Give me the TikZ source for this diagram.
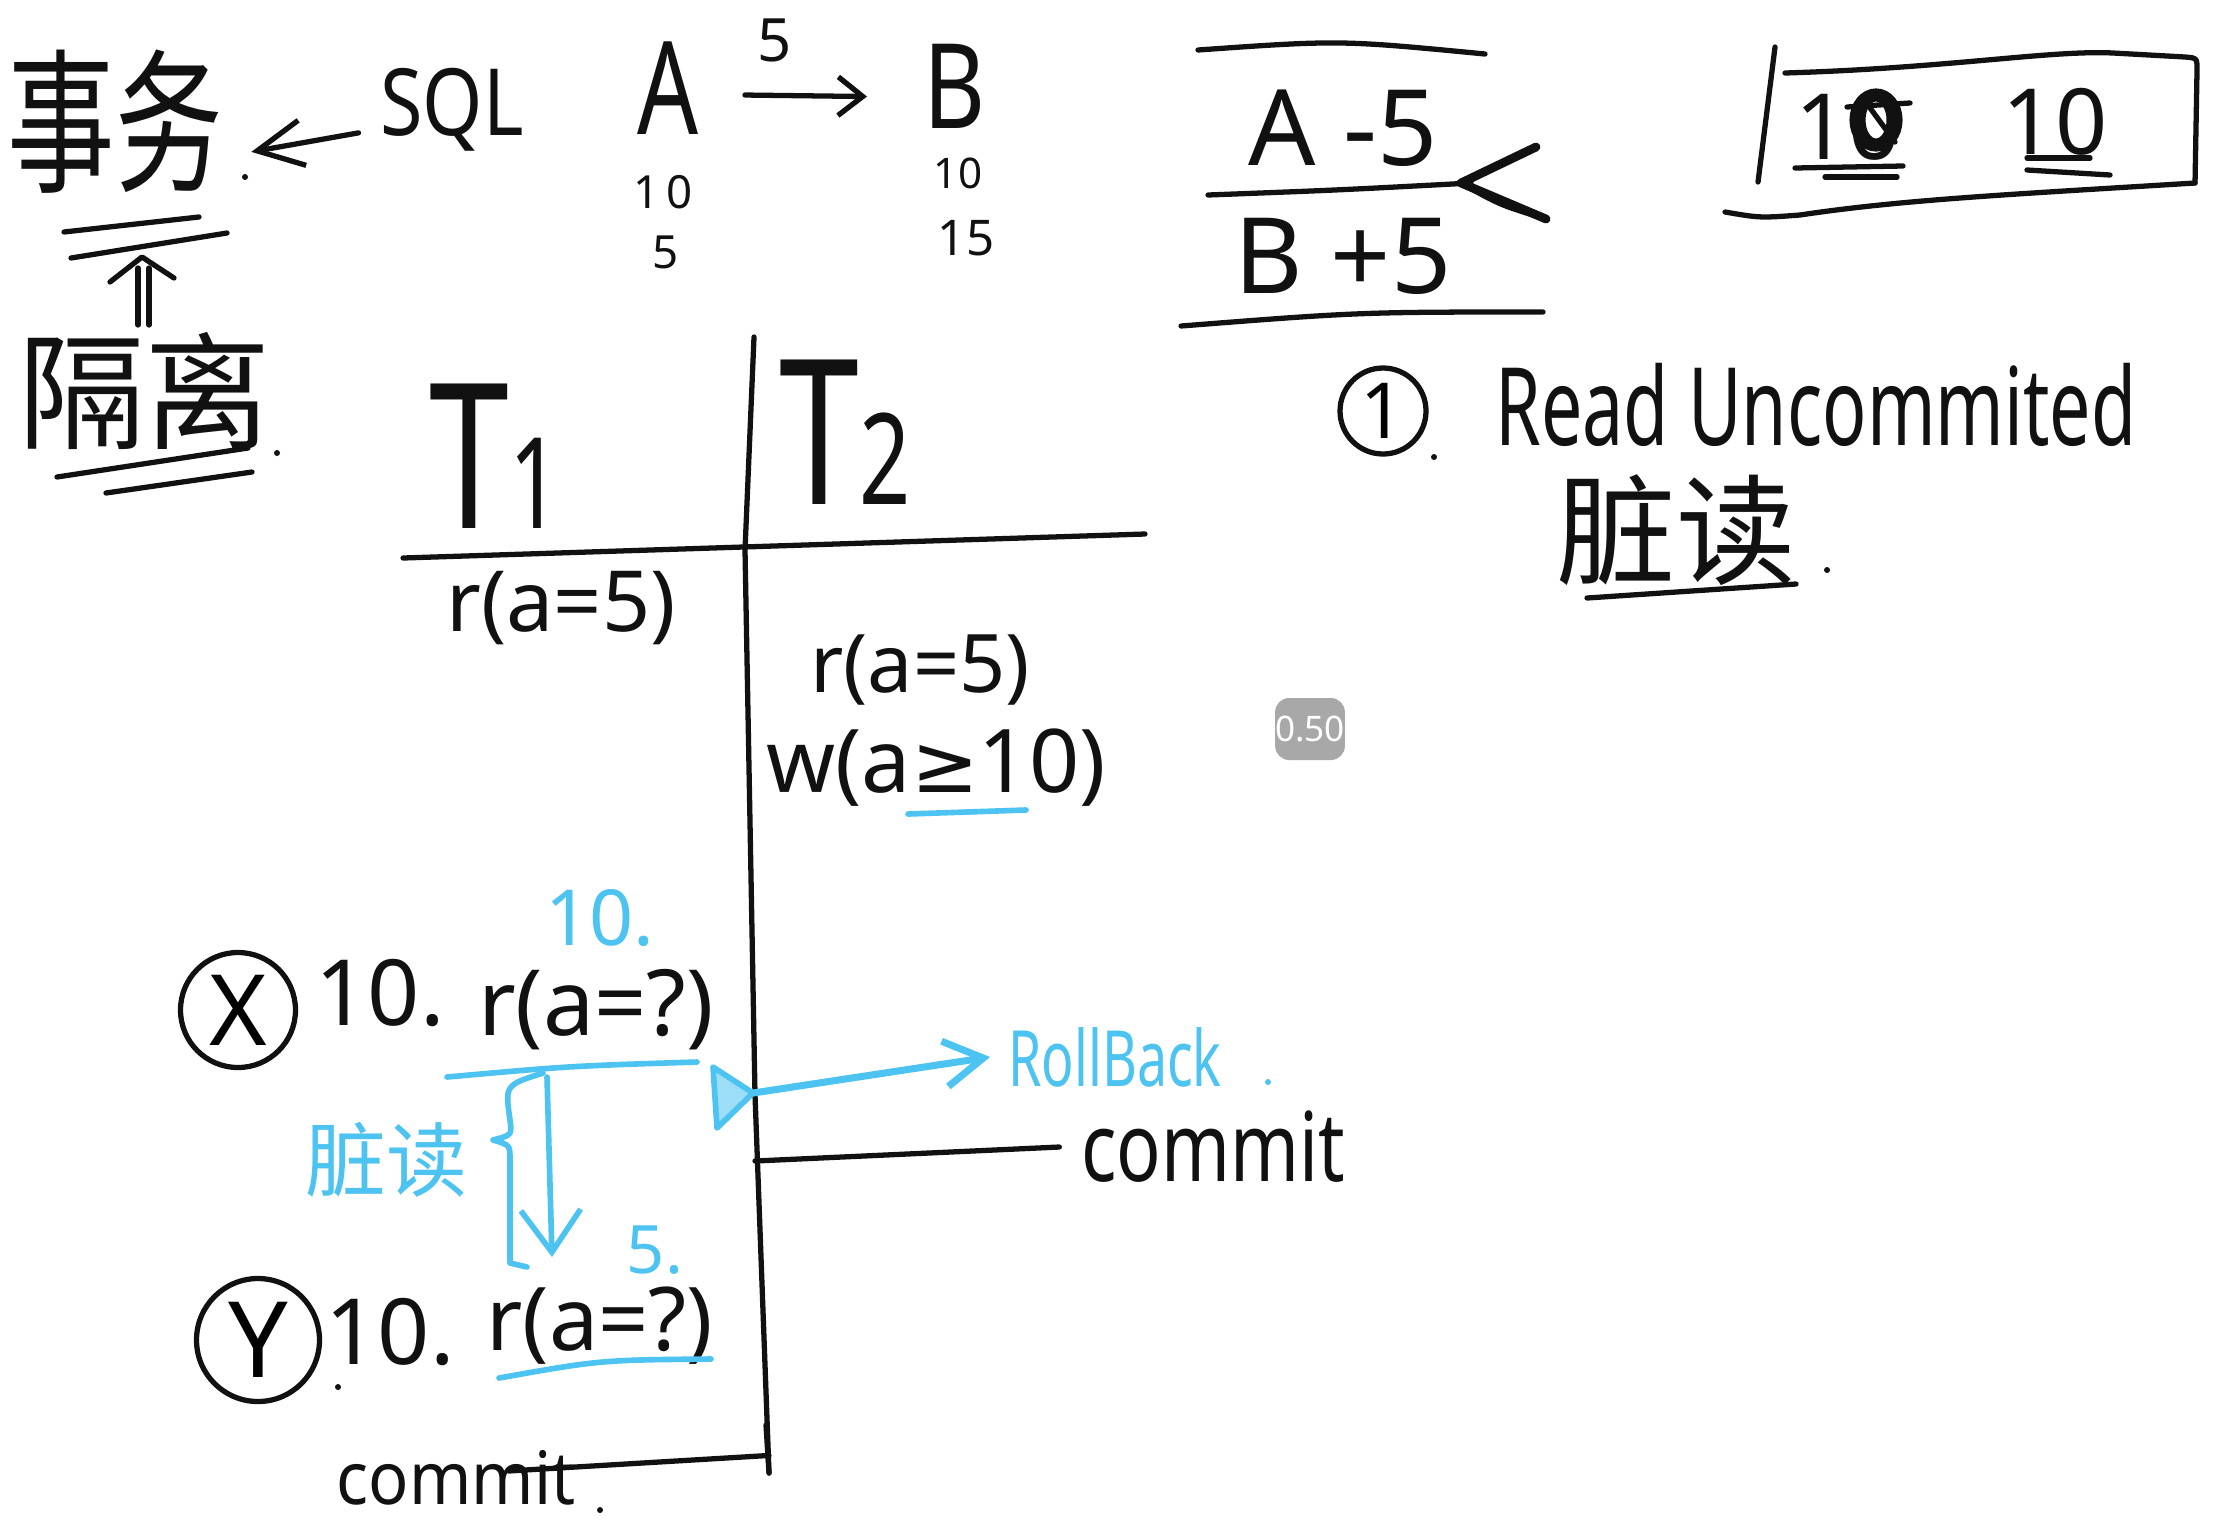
\documentclass[tikz,border=0pt]{standalone}
\usepackage{fontspec}
\setmainfont{Noto Sans}
\newfontfamily\cjk{Noto Sans CJK SC}
\newfontfamily\symfont{DejaVu Sans}
\usetikzlibrary{arrows.meta}
\definecolor{ink}{HTML}{111111}
\definecolor{sky}{HTML}{4CC3F0}
\definecolor{badgegray}{HTML}{A8A8A8}
\newcommand{\fsz}[1]{\fontsize{#1}{#1}\selectfont}
\begin{document}
\begin{tikzpicture}[x=0.1mm,y=-0.1mm,line cap=round,line join=round,
  stroke/.style={draw=ink,line width=1.5pt},
  bstroke/.style={draw=sky,line width=1.6pt},
  txt/.style={inner sep=0pt,text=ink},
  btxt/.style={inner sep=0pt,text=sky},
  ring/.style={draw=ink,line width=1.5pt,circle,inner sep=0pt},
  dotmark/.style={fill=ink},
  barb/.style={-{Straight Barb[length=#1pt,width=#1pt]}}]
\useasboundingbox[fill=white] (0,0) rectangle (2216,1534);

% ---------- top left ----------
\node[txt,font=\cjk\fsz{34}] (shiwu) at (115,122) {\scalebox{0.9}[1.3]{事务}};
\fill[dotmark] (245,177) circle (3);
\node[txt,font=\fsz{22}] (sql) at (452,110) {\scalebox{1}[1.2]{SQL}};
\draw[stroke,barb=13] ([xshift=-6pt,yshift=-6.5pt]sql.west) -- ([xshift=8pt,yshift=-8.5pt]shiwu.east);

\draw[stroke] (64,232) -- (199,217);
\draw[stroke] (71,258) -- (227,233);
\node[txt,font=\cjk\fsz{36}] (geli) at (145,391) {隔离};
\fill[dotmark] (277,453) circle (3);
\draw[stroke] (138,325) -- (138,268);
\draw[stroke] (149,325) -- (149,268);
\draw[stroke] (110,282) -- (142,257) -- (174,278);
\draw[stroke] (57,477) -- (248,448);
\draw[stroke] (106,493) -- (252,472);

\node[txt,font=\fsz{32}] (A) at (668,88) {\scalebox{0.85}[1.15]{A}};
\node[txt,font=\fsz{17}] (five) at (775,40) {5};
\node[txt,font=\fsz{32}] (B) at (955,86) {\scalebox{0.85}[1.05]{B}};
\draw[stroke,-{Straight Barb[length=7pt,width=11pt]}] ([xshift=13pt,yshift=-2pt]A.east) -- ([xshift=-16pt,yshift=-3pt]B.west);
\node[txt,font=\fsz{13}] (a10) at (663,192) {1\,0};
\node[txt,font=\fsz{13}] (a5) at (666,252) {5};
\node[txt,font=\fsz{12}] (b10) at (958,173) {10};
\node[txt,font=\fsz{14}] (b15) at (966,238) {15};

% ---------- A-5 / B+5 ----------
\draw[stroke] (1198,50) .. controls (1340,40) .. (1485,54);
\node[txt,font=\fsz{30}] (am5) at (1343,128) {A -5};
\draw[stroke] (1208,195) .. controls (1340,190) .. (1471,183);
\coordinate (cutTip) at (1461,183);
\draw[stroke,line width=2.5pt] (1536,147) -- (cutTip) -- (1546,219);
\draw[stroke] (cutTip) .. controls (1500,205) .. (1546,219);
\node[txt,font=\fsz{30}] (bp5) at (1343,256) {B +5};
\draw[stroke] (1181,326) .. controls (1360,312) .. (1543,312);

% ---------- box with 10 10 ----------
\draw[stroke] (1775,47) -- (1758,182);
\draw[stroke] (1785,73) .. controls (1950,68) and (2050,50) .. (2113,53) -- (2185,57) .. controls (2197,58) .. (2197,70) -- (2195,183);
\draw[stroke] (2195,183) .. controls (2000,195) and (1900,200) .. (1800,215) .. controls (1760,218) .. (1725,212);
\node[txt,font=\fsz{26}] (tenA) at (1848,127) {10};
\draw[draw=ink,line width=2.6pt] (1876,120) ellipse (22 and 27);
\draw[draw=ink,line width=2pt] (1876,120) ellipse (14 and 22);
\draw[stroke] (1847,107) -- (1910,103);
\draw[stroke] (1862,97) -- (1895,142);
\draw[stroke] (1795,168) -- (1903,166);
\draw[stroke] (1825,177) -- (1897,177);
\node[txt,font=\fsz{26}] (tenB) at (2055,122) {10};
\draw[stroke] (2027,158) -- (2090,158);
\draw[stroke] (2027,170) -- (2110,175);

% ---------- Read Uncommited ----------
\node[ring,minimum size=8.6mm,font=\fsz{22}] (one) at (1383,411) {1};
\fill[dotmark] (1434,457) circle (3);
\node[txt,font=\fsz{22}] (ru) at (1816,405) {\scalebox{0.95}[1.4]{Read Uncommited}};
\node[txt,font=\cjk\fsz{34}] (zd) at (1676,530) {脏读};
\fill[dotmark] (1827,570) circle (3);
\draw[stroke] (1587,598) -- (1796,584);

% ---------- timeline table ----------
\node[txt,font=\fsz{48}] (T1) at (495,456) {\scalebox{0.85}[1.2]{T{\fsz{30}1}}};
\node[txt,font=\fsz{48}] (T2) at (845,432) {\scalebox{0.85}[1.2]{T{\fsz{30}2}}};
\coordinate (vt) at (754,337);
\coordinate (vb) at (769,1473);
\draw[stroke] (vt) -- (745,550) -- (755,1095) -- (vb);
\draw[stroke] (403,558) -- (1145,534);

\node[txt,font=\fsz{24}] (r1) at (561,608) {r(a=5)};
\node[txt,font=\fsz{23}] (r2) at (920,670) {r(a=5)};
\node[txt,font=\fsz{25}] (w1) at (936,768) {w(a{\symfont\fsz{23}≥}10)};
\draw[bstroke] (908,814) -- (1026,810);

\node[btxt,font=\fsz{22}] (bten) at (600,918) {10.};
\node[ring,minimum size=11.5mm,font=\fsz{28}] (X) at (238,1010) {X};
\node[txt,font=\fsz{26}] (xten) at (380,993) {10.};
\node[txt,font=\fsz{26}] (rq1) at (596,1010) {r(a=?)};

\draw[bstroke] (447,1077) .. controls (570,1066) .. (697,1062);
\draw[bstroke,-{Straight Barb[length=12pt,width=17pt]}] (547,1077) -- (552,1257);
\draw[bstroke] (543,1073) .. controls (505,1085) .. (510,1120) .. controls (512,1135) .. (493,1140) .. controls (510,1145) .. (510,1160) -- (510,1263) -- (527,1267);
\node[btxt,font=\cjk\fsz{23}] (dirty) at (386,1160) {脏读};

\draw[bstroke,fill=sky!55] (713,1067) -- (717,1128) -- (753,1093) -- cycle;
\node[btxt,font=\fsz{17}] (rb) at (1115,1057) {\scalebox{0.9}[1.3]{RollBack}};
\fill[sky] (1268,1082) circle (3);
\draw[bstroke,line width=2pt,-{Straight Barb[length=11pt,width=13pt]}] (753,1093) -- ([xshift=-5pt]rb.west);

\node[txt,font=\fsz{21}] (commitR) at (1213,1147) {\scalebox{1}[1.3]{commit}};
\draw[stroke] (755,1161) -- ([xshift=-6pt]commitR.west);

\node[btxt,font=\fsz{19}] (bfive) at (655,1250) {5.};
\node[ring,minimum size=12.3mm,font=\fsz{30}] (Y) at (258,1340) {Y};
\fill[dotmark] (338,1387) circle (3);
\node[txt,font=\fsz{26}] (yten) at (390,1332) {10.};
\node[txt,font=\fsz{25}] (rq2) at (600,1326) {r(a=?)};
\draw[bstroke] (499,1378) .. controls (600,1360) .. (711,1359);

\node[txt,font=\fsz{19}] (commitB) at (456,1478) {\scalebox{1}[1.1]{commit}};
\fill[dotmark] (600,1510) circle (3);
\draw[stroke] (766,1425) -- (vb);
\draw[stroke] ([xshift=15pt,yshift=2pt]commitB.center) -- ([yshift=5pt]vb);

% ---------- badge ----------
\node[fill=badgegray,rounded corners=4pt,minimum width=6.9mm,minimum height=6.2mm,inner sep=0pt,text=white,font=\fsz{10}] (badge) at (1310,729) {0.50};
\end{tikzpicture}
\end{document}
